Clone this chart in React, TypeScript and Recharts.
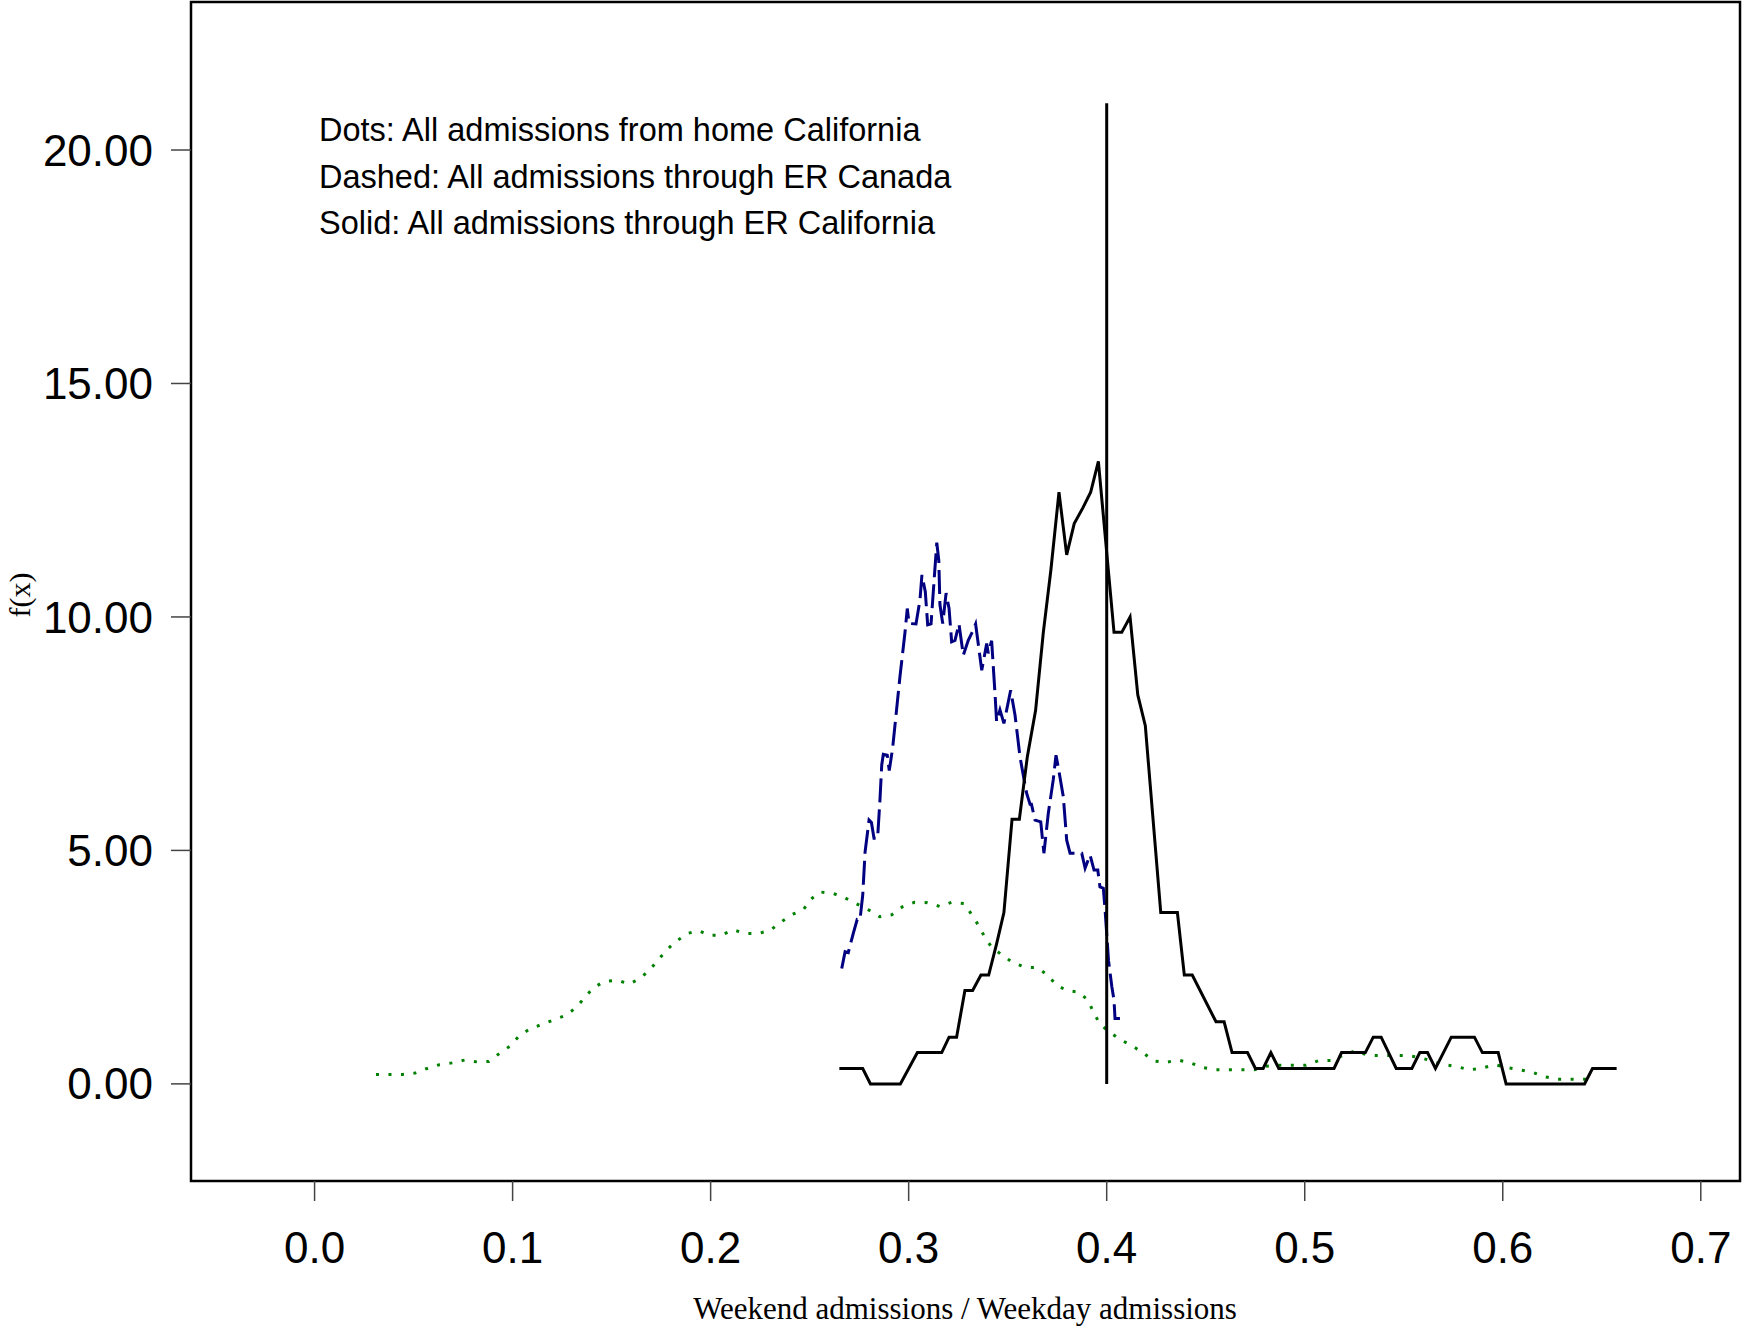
import { LineChart, Line, XAxis, YAxis, ReferenceLine, ReferenceArea } from 'recharts';

const xTicks = [0, 0.1, 0.2, 0.3, 0.4, 0.5, 0.6, 0.7];
const yTicks = [0, 5, 10, 15, 20];
const xDomain = [-0.0624, 0.7198];
const yDomain = [-2.08, 23.17];

const legendLines = [
  'Dots: All admissions from home California',
  'Dashed: All admissions through ER Canada',
  'Solid: All admissions through ER California',
];

// Dots: all admissions from home, California
const homeX = [0.031, 0.0443, 0.0507, 0.0568, 0.063, 0.0694, 0.0758, 0.0822, 0.0879, 0.0933, 0.0987, 0.1031, 0.1084, 0.1145, 0.1207, 0.127, 0.1322, 0.1364, 0.1406, 0.1461, 0.1527, 0.1589, 0.1645, 0.1694, 0.1736, 0.1778, 0.1826, 0.1881, 0.1938, 0.1998, 0.2057, 0.2113, 0.2175, 0.2241, 0.2301, 0.2354, 0.2407, 0.2468, 0.2508, 0.2552, 0.2618, 0.268, 0.274, 0.28, 0.2854, 0.2914, 0.2968, 0.303, 0.3094, 0.3157, 0.3217, 0.328, 0.3316, 0.3352, 0.3382, 0.3417, 0.3468, 0.3525, 0.3586, 0.3649, 0.3702, 0.3747, 0.38, 0.3863, 0.3907, 0.3935, 0.3966, 0.4017, 0.4072, 0.4131, 0.4185, 0.4239, 0.4296, 0.436, 0.4424, 0.4485, 0.455, 0.468, 0.4746, 0.4805, 0.4875, 0.5007, 0.5071, 0.5132, 0.5193, 0.5257, 0.5319, 0.545, 0.5514, 0.5577, 0.5706, 0.5768, 0.5832, 0.5897, 0.5961, 0.6024, 0.6088, 0.615, 0.6213, 0.6278, 0.6408, 0.6445];
const homeY = [0.2, 0.2, 0.23, 0.33, 0.41, 0.45, 0.51, 0.47, 0.48, 0.65, 0.81, 1.02, 1.17, 1.27, 1.37, 1.47, 1.64, 1.85, 2.05, 2.19, 2.22, 2.14, 2.26, 2.45, 2.66, 2.87, 3.05, 3.22, 3.28, 3.18, 3.19, 3.3, 3.22, 3.22, 3.29, 3.46, 3.62, 3.73, 3.96, 4.11, 4.08, 3.98, 3.85, 3.72, 3.58, 3.62, 3.79, 3.89, 3.88, 3.8, 3.89, 3.86, 3.64, 3.4, 3.16, 2.94, 2.77, 2.6, 2.5, 2.49, 2.33, 2.11, 2.0, 1.96, 1.78, 1.52, 1.28, 1.1, 0.94, 0.81, 0.66, 0.49, 0.46, 0.51, 0.45, 0.35, 0.3, 0.3, 0.3, 0.38, 0.4, 0.4, 0.5, 0.5, 0.61, 0.71, 0.61, 0.61, 0.61, 0.57, 0.41, 0.37, 0.3, 0.34, 0.41, 0.35, 0.3, 0.25, 0.15, 0.1, 0.1, 0.1];

// Dashed: all admissions through ER, Canada
const canadaX = [0.2662, 0.2679, 0.2695, 0.272, 0.274, 0.2754, 0.2768, 0.278, 0.28, 0.2812, 0.2825, 0.2843, 0.2855, 0.2864, 0.2872, 0.2892, 0.2902, 0.2919, 0.2956, 0.2981, 0.2993, 0.3002, 0.3037, 0.3057, 0.3067, 0.3084, 0.3096, 0.3113, 0.313, 0.3142, 0.3152, 0.3158, 0.3172, 0.3189, 0.3204, 0.3217, 0.3234, 0.3254, 0.3276, 0.3301, 0.3318, 0.3338, 0.3369, 0.3394, 0.3402, 0.3419, 0.3436, 0.3444, 0.3461, 0.3481, 0.3515, 0.3537, 0.3562, 0.3583, 0.3596, 0.3613, 0.362, 0.3638, 0.3667, 0.3683, 0.3705, 0.373, 0.3744, 0.3755, 0.3781, 0.3798, 0.3815, 0.3874, 0.3891, 0.3916, 0.3936, 0.3955, 0.3966, 0.3983, 0.3992, 0.4009, 0.4026, 0.4037, 0.4042, 0.4067];
const canadaY = [2.47, 2.83, 2.81, 3.22, 3.52, 3.51, 4.04, 4.97, 5.65, 5.6, 5.26, 5.26, 6.08, 6.83, 7.06, 7.04, 6.71, 7.19, 8.72, 9.65, 10.18, 9.86, 9.85, 10.36, 10.9, 10.54, 9.83, 9.85, 10.88, 11.59, 11.22, 10.26, 9.86, 10.51, 10.18, 9.47, 9.5, 9.85, 9.18, 9.5, 9.65, 9.85, 8.86, 9.43, 9.22, 9.49, 8.36, 7.76, 8.01, 7.72, 8.43, 7.9, 7.01, 6.51, 6.22, 5.99, 5.99, 5.65, 5.61, 4.94, 5.79, 6.51, 7.04, 6.79, 6.15, 5.22, 4.94, 4.94, 4.62, 4.9, 4.58, 4.58, 4.22, 4.19, 3.72, 2.65, 2.08, 1.79, 1.4, 1.4];

// Solid: all admissions through ER, California
const erCaX = [0.265, 0.2768, 0.2807, 0.2958, 0.3044, 0.3167, 0.3204, 0.3242, 0.3284, 0.3323, 0.3365, 0.3404, 0.3444, 0.3481, 0.3522, 0.3559, 0.3599, 0.3641, 0.368, 0.3718, 0.3759, 0.3798, 0.3836, 0.3879, 0.3919, 0.3958, 0.4037, 0.4076, 0.4118, 0.4157, 0.4195, 0.4273, 0.4357, 0.4392, 0.4432, 0.4552, 0.4593, 0.4633, 0.4711, 0.4751, 0.479, 0.4829, 0.4869, 0.5148, 0.5186, 0.5306, 0.5346, 0.5386, 0.5462, 0.5541, 0.5581, 0.562, 0.566, 0.574, 0.5857, 0.5897, 0.5977, 0.6017, 0.6413, 0.6453, 0.6575];
const erCaY = [0.33, 0.33, 0, 0, 0.67, 0.67, 1.0, 1.0, 2.0, 2.0, 2.33, 2.33, 3.0, 3.67, 5.67, 5.67, 7.0, 8.0, 9.67, 11.0, 12.67, 11.33, 12.0, 12.33, 12.67, 13.33, 9.67, 9.67, 10.0, 8.33, 7.67, 3.67, 3.67, 2.33, 2.33, 1.33, 1.33, 0.67, 0.67, 0.33, 0.33, 0.67, 0.33, 0.33, 0.67, 0.67, 1.0, 1.0, 0.33, 0.33, 0.67, 0.67, 0.33, 1.0, 1.0, 0.67, 0.67, 0, 0, 0.33, 0.33];

const zip = (xs: number[], ys: number[]) => xs.map((x, i) => ({ x, y: ys[i] }));

const sans = '"Liberation Sans", Arial, sans-serif';
const serif = '"Liberation Serif", "Times New Roman", serif';

export default function App() {
  return (
    <div style={{ position: 'absolute', left: 0, top: 0, width: 1743, height: 1326, background: '#fff' }}>
      <LineChart width={1743} height={1326} margin={{ top: 2, right: 3, bottom: 0, left: 0 }}>
        <XAxis
          type="number"
          dataKey="x"
          domain={xDomain}
          ticks={xTicks}
          allowDataOverflow
          tickFormatter={(v: number) => v.toFixed(1)}
          height={145}
          tickSize={20}
          tickMargin={31}
          axisLine={false}
          tickLine={{ stroke: '#444', strokeWidth: 1.5 }}
          tick={{ fontSize: 44, fill: '#000', fontFamily: sans }}
        />
        <YAxis
          type="number"
          dataKey="y"
          domain={yDomain}
          ticks={yTicks}
          allowDataOverflow
          tickFormatter={(v: number) => v.toFixed(2)}
          width={191}
          tickSize={20}
          tickMargin={18}
          axisLine={false}
          tickLine={{ stroke: '#444', strokeWidth: 1.5 }}
          tick={{ fontSize: 44, fill: '#000', fontFamily: sans }}
        />
        <ReferenceArea x1={xDomain[0]} x2={xDomain[1]} y1={yDomain[0]} y2={yDomain[1]} fill="none" stroke="#000" strokeWidth={2.5} />
        <Line data={zip(homeX, homeY)} dataKey="y" type="linear" stroke="#008000" strokeWidth={3} strokeDasharray="3 9.5" dot={false} isAnimationActive={false} />
        <Line data={zip(canadaX, canadaY)} dataKey="y" type="linear" stroke="#000080" strokeWidth={3} strokeDasharray="24 7" dot={false} isAnimationActive={false} />
        <Line data={zip(erCaX, erCaY)} dataKey="y" type="linear" stroke="#000" strokeWidth={3} dot={false} isAnimationActive={false} />
        <ReferenceLine segment={[{ x: 0.4, y: 0 }, { x: 0.4, y: 21 }]} stroke="#000" strokeWidth={3} />
      </LineChart>
      {legendLines.map((t, i) => (
        <div key={t} style={{ position: 'absolute', left: 319, top: 130 + i * 46.7 - 16, fontSize: 32.5, lineHeight: '32px', fontFamily: sans, whiteSpace: 'nowrap' }}>{t}</div>
      ))}
      <div style={{ position: 'absolute', left: 965, top: 1309 - 16, transform: 'translateX(-50%)', fontSize: 31, lineHeight: '32px', fontFamily: serif, whiteSpace: 'nowrap' }}>
        Weekend admissions / Weekday admissions
      </div>
      <div style={{ position: 'absolute', left: 20, top: 595, transform: 'translate(-50%, -50%) rotate(-90deg)', fontSize: 30, lineHeight: '30px', fontFamily: serif, whiteSpace: 'nowrap' }}>
        f(x)
      </div>
    </div>
  );
}
